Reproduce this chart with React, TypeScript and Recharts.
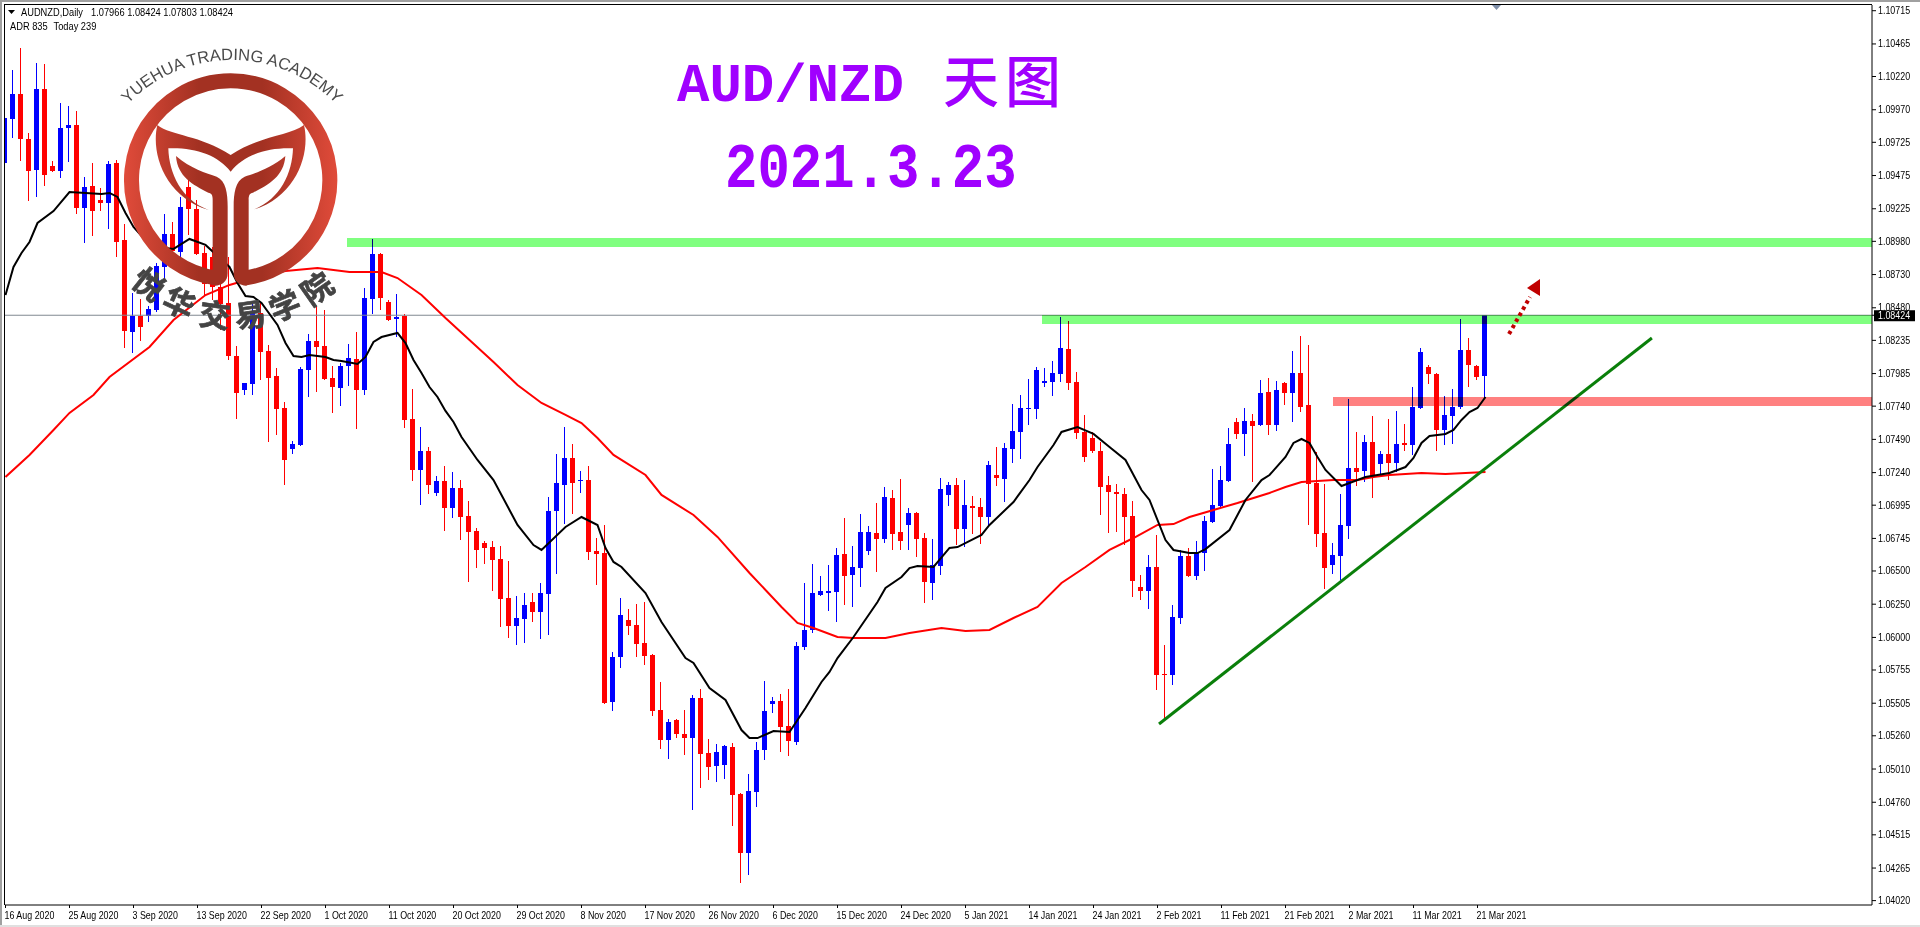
import React from 'react';
import { Bar, ComposedChart, Line, ReferenceArea, ReferenceLine, XAxis, YAxis } from 'recharts';

// all prices in points (1e-5)
const opens = [
  109567,109903,110089,109750,109517,110126,109547,109509,109828,109853,
  109234,109397,109291,109271,109570,108990,108298,108418,108421,108464,
  108790,109035,108902,109392,109221,108895,108865,108639,108514,108117,
  107862,107907,108443,108155,107967,107726,107418,107448,108012,108230,
  108193,107952,107877,108037,108092,107862,108549,108885,108526,108396,
  108418,107643,107260,107403,107087,107177,106974,107124,106914,106801,
  106710,106680,106590,106297,106086,106139,106267,106191,106327,106951,
  107147,107350,107177,107184,106650,106635,105514,105853,106131,106093,
  105958,105868,105454,105228,105379,105273,105243,105544,105130,105033,
  105040,105176,104822,104378,104837,105153,105499,105522,105334,105213,
  105928,106056,106319,106334,106342,106628,106470,106522,106650,106786,
  106741,107049,106793,106846,106936,106748,106410,106537,107072,107147,
  106816,106989,106981,106906,107222,107192,107418,107546,107719,107719,
  107914,107922,107982,108170,107922,107546,107501,107403,107147,107094,
  107079,106914,106379,106349,106530,105725,105717,106146,106613,106462,
  106635,106869,106989,107177,107621,107531,107628,107598,107847,107598,
  107914,107839,107990,107749,107162,106786,106545,106613,106838,107275,
  107252,107470,107305,107380,107312,107463,107448,107726,108035,107982,
  107561,107666,107734,108163,108042,107966,
];
const highs = [
  109938,110269,110432,109793,110319,110312,109582,110019,109998,109958,
  109464,109567,109379,109585,109590,109111,108589,108544,108494,108815,
  109186,109126,109316,109492,109291,108945,108940,108739,108860,108193,
  107914,108514,108526,108200,108025,107771,107478,108032,108283,108494,
  108464,108042,108062,108208,108298,108627,108998,108890,108539,108584,
  108433,107869,107583,107433,107215,107290,107245,107184,107026,106823,
  106726,106726,106688,106575,106312,106334,106334,106410,107057,107380,
  107583,107455,107252,107290,106748,106846,105890,106297,106214,106251,
  106267,105875,105665,105386,105386,105454,105567,105612,105236,105198,
  105191,105206,104829,104972,105213,105672,105552,105574,105612,105966,
  106410,106552,106462,106545,106673,106899,106688,106929,106838,107011,
  107132,107109,107192,106974,106945,106786,106741,107200,107169,107200,
  107184,107064,107049,107327,107433,107463,107756,107824,107944,108035,
  108027,108080,108411,108381,107997,107674,107546,107470,107215,107154,
  107124,107026,106470,106620,106771,105943,106244,106658,106673,106726,
  106914,107267,107290,107576,107651,107726,107681,107937,107952,107929,
  107922,108155,108268,108200,107395,107154,106710,107079,107794,107546,
  107523,107666,107403,107643,107704,107606,107884,108178,108050,107990,
  107816,107869,108396,108253,108050,108424,
];
const lows = [
  109555,109760,109580,109279,109309,109392,109497,109452,109577,109181,
  108970,109015,109203,109076,108857,108180,108135,108225,108376,108443,
  108699,108890,108852,109025,108877,108576,108539,108313,108087,107646,
  107824,107824,107937,107473,107518,107147,107380,107435,107811,107849,
  107937,107691,107736,107892,107571,107824,108433,108464,108381,108258,
  107576,107177,106996,107079,107064,106801,106899,106733,106417,106522,
  106552,106349,106078,105996,105943,105958,106116,105988,106018,106477,
  106853,106929,107087,106583,106394,105499,105446,105770,106018,105853,
  105793,105409,105161,105085,105243,105115,104702,104867,104927,104912,
  104935,104581,104152,104212,104724,105078,105431,105138,105108,105191,
  105905,106033,106312,106199,106116,106244,106229,106379,106620,106492,
  106710,106658,106658,106658,106605,106259,106282,106470,106989,106695,
  106680,106778,106703,106846,107139,107019,107312,107343,107598,107643,
  107884,107816,107922,107862,107493,107320,107388,106921,106786,106793,
  106695,106304,106282,106214,105604,105394,105642,106101,106455,106432,
  106500,106860,106985,107169,107493,107365,107169,107591,107523,107553,
  107749,107621,107696,106846,106680,106364,106477,106432,106741,107139,
  107169,107049,107222,107184,107245,107403,107373,107719,107907,107403,
  107448,107455,107719,107884,107937,107803,
];
const closes = [
  109906,110089,109753,109509,110126,109482,109509,109833,109853,109226,
  109389,109211,109271,109562,108978,108308,108418,108338,108471,108795,
  109035,108910,109239,109223,108885,108664,108639,108514,108112,107842,
  107914,108438,108150,107954,107721,107335,107455,108020,108230,108183,
  107944,107887,108042,108100,107862,108554,108885,108556,108393,108408,
  107636,107260,107403,107147,107177,106974,107124,106906,106793,106658,
  106673,106583,106289,106086,106146,106244,106191,106334,106951,107162,
  107350,107162,107184,106643,106628,105507,105853,106169,106086,105951,
  105860,105446,105228,105364,105273,105243,105544,105123,105025,105138,
  105183,104814,104378,104845,105153,105446,105522,105326,105221,105936,
  106056,106334,106349,106349,106620,106462,106530,106793,106793,106741,
  107057,106778,106726,106936,106741,106417,106545,107117,107147,106816,
  106996,106974,106906,107297,107200,107425,107553,107726,107726,108012,
  107929,107990,108178,107914,107538,107358,107403,107132,107094,107079,
  106906,106425,106349,106530,105717,105717,106154,106613,106462,106635,
  106876,106996,107184,107455,107531,107628,107591,107839,107598,107862,
  107839,107990,107734,107154,106778,106522,106620,106846,107275,107245,
  107470,107207,107380,107312,107455,107448,107734,108148,107982,107561,
  107674,107734,108163,108050,107959,108424,
];

// moving averages, read at the bars listed next to them
const fastMaBars = [0,1,2,3,4,6,8,10,12,13,14,15,16,18,20,21,23,25,28,29,30,31,32,34,35,36,37,38,40,41,42,44,45,46,47,49,50,51,52,53,54,55,56,57,59,61,63,64,66,67,70,72,74,75,76,77,80,82,85,86,88,90,92,93,94,96,98,100,102,103,104,106,109,110,112,113,114,116,118,119,122,123,126,128,129,131,132,134,136,138,140,142,143,145,146,148,149,150,153,155,157,158,160,161,162,163,164,165,167,168,170,173,175,176,177,178,180,181,182,183,184,185];
const fastMa = [108576,108787,108892,108975,109118,109208,109351,109344,109336,109344,109314,109193,109088,108953,108930,108923,108998,108953,108787,108667,108569,108561,108516,108351,108215,108117,108110,108125,108110,108087,108080,108057,108110,108223,108260,108291,108215,108087,107990,107884,107809,107704,107621,107508,107335,107184,106959,106846,106695,106658,106831,106906,106846,106673,106568,106530,106334,106116,105845,105808,105620,105529,105303,105243,105243,105296,105288,105469,105665,105740,105845,106003,106267,106372,106455,106522,106537,106530,106673,106680,106771,106846,107019,107184,107282,107448,107546,107583,107531,107433,107335,107109,107034,106733,106658,106635,106635,106665,106808,107034,107184,107222,107358,107463,107493,107463,107358,107260,107139,107162,107207,107237,107282,107350,107463,107516,107531,107561,107636,107696,107726,107809];
const slowMaBars = [0,3,6,8,11,13,18,21,25,28,31,35,39,43,47,49,52,55,58,61,64,67,70,72,74,76,80,82,86,89,93,97,99,101,104,106,110,113,117,120,123,126,129,132,135,138,141,144,146,148,151,154,158,160,162,166,169,171,173,177,180,185];
const slowMa = [107207,107373,107561,107689,107824,107959,108185,108388,108576,108652,108704,108757,108780,108749,108749,108704,108576,108403,108238,108072,107899,107764,107674,107613,107500,107373,107222,107072,106921,106756,106485,106229,106109,106071,106003,105996,105996,106033,106071,106048,106056,106146,106229,106410,106530,106658,106748,106846,106853,106906,106959,107011,107087,107132,107169,107184,107184,107207,107222,107237,107230,107245];

const dateLabels = ['16 Aug 2020','25 Aug 2020','3 Sep 2020','13 Sep 2020','22 Sep 2020','1 Oct 2020','11 Oct 2020','20 Oct 2020','29 Oct 2020','8 Nov 2020','17 Nov 2020','26 Nov 2020','6 Dec 2020','15 Dec 2020','24 Dec 2020','5 Jan 2021','14 Jan 2021','24 Jan 2021','2 Feb 2021','11 Feb 2021','21 Feb 2021','2 Mar 2021','11 Mar 2021','21 Mar 2021'];
const barsPerLabel = 8;
const priceTicks = [1.10715,1.10465,1.1022,1.0997,1.09725,1.09475,1.09225,1.0898,1.0873,1.0848,1.08235,1.07985,1.0774,1.0749,1.0724,1.06995,1.06745,1.065,1.0625,1.06,1.05755,1.05505,1.0526,1.0501,1.0476,1.04515,1.04265,1.0402];
const bid = 1.08424;

const rows = opens.map((open, i) => ({
  i,
  open: open / 1e5,
  close: closes[i] / 1e5,
  range: [lows[i] / 1e5, highs[i] / 1e5],
  fast: fastMaBars.includes(i) ? fastMa[fastMaBars.indexOf(i)] / 1e5 : null,
  slow: slowMaBars.includes(i) ? slowMa[slowMaBars.indexOf(i)] / 1e5 : null,
}));

const xMin = -0.0625;
const xMax = 233.3125;
const UP = '#0000FF';
const DOWN = '#FF0000';
const smallFont = '"Liberation Sans", Arial, sans-serif';

const Candle = (props: any) => {
  const { x, y, width, height, payload } = props;
  const [low, high] = payload.range;
  const k = height / (high - low);
  const top = Math.max(payload.open, payload.close);
  const bottom = Math.min(payload.open, payload.close);
  const bodyY = Math.round(y + (high - top) * k);
  const bodyH = Math.max(1, Math.round((top - bottom) * k));
  const color = payload.close >= payload.open ? UP : DOWN;
  const left = Math.floor(x);
  return (
    <g shapeRendering="crispEdges">
      <rect x={left + 2} y={Math.round(y)} width={1} height={Math.max(1, Math.round(height))} fill={color} />
      <rect x={left} y={bodyY} width={5} height={bodyH} fill={color} />
    </g>
  );
};

const Band = (props: any) => (
  <rect
    x={props.x}
    y={props.y}
    width={props.width}
    height={props.height}
    fill={props.fill}
    shapeRendering="crispEdges"
    style={{ mixBlendMode: 'multiply' }}
  />
);

const DateTick = (props: any) => {
  const { x, y, payload } = props;
  return (
    <text transform={`translate(${x - 1} ${y + 9}) scale(0.89 1)`} fontSize={10} fontFamily={smallFont} fill="#000">
      {dateLabels[payload.value / barsPerLabel]}
    </text>
  );
};

const PriceTick = (props: any) => {
  const { x, y, payload } = props;
  const isBid = payload.value === bid;
  return (
    <g>
      {isBid && <rect x={1874} y={y - 5} width={41} height={11} fill="#000" />}
      <text
        transform={`translate(1878 ${y + 3.5}) scale(0.89 1)`}
        fontSize={10}
        fontFamily={smallFont}
        fill={isBid ? '#fff' : '#000'}
      >
        {payload.value.toFixed(5)}
      </text>
    </g>
  );
};

const Logo = () => (
  <g>
    <defs>
      <linearGradient id="logoFill" gradientUnits="userSpaceOnUse" x1="72" x2="712" y1="0" y2="0">
        <stop offset="0" stopColor="#E04B3A" />
        <stop offset="0.35" stopColor="#A33122" />
        <stop offset="0.65" stopColor="#A33122" />
        <stop offset="1" stopColor="#E04B3A" />
      </linearGradient>
    </defs>
    <g transform="translate(100 60) scale(0.33333)">
      <path d="M350 654.5 A297.5 297.5 0 1 1 434 654.5" fill="none" stroke="url(#logoFill)" strokeWidth={45} />
      <path
        d="M172 195 C215 228 300 225 392 285 C484 225 569 228 612 195 C632 280 590 410 458 450 C540 420 577 340 579 265 C500 262 430 285 392 335 C354 285 284 262 205 265 C207 340 244 420 326 450 C194 410 152 280 172 195 Z"
        fill="url(#logoFill)"
      />
      <path
        d="M228 288 C270 325 320 340 350 350 C378 362 383 400 383 440 L383 640 C383 665 365 677 345 677 L330 655 L338 630 L338 420 C338 405 335 400 325 398 C280 375 232 350 228 288 Z"
        fill="url(#logoFill)"
      />
      <path
        d="M556 288 C514 325 464 340 434 350 C406 362 401 400 401 440 L401 640 C401 665 419 677 439 677 L454 655 L446 630 L446 420 C446 405 449 400 459 398 C504 375 552 350 556 288 Z"
        fill="url(#logoFill)"
      />
    </g>
    <path id="logoArc" d="M107 131.5 A145 145 0 0 1 357 131.5" fill="none" />
    <text fontSize={16.5} fontFamily={smallFont} fill="#4A4A4A" textAnchor="middle">
      <textPath href="#logoArc" startOffset="50%">YUEHUA TRADING ACADEMY</textPath>
    </text>
    {[
      ['悦', 150, 283, 38],
      ['华', 180, 301, 25],
      ['交', 215, 313, 8],
      ['易', 250, 313, -8],
      ['学', 284, 304, -22],
      ['院', 316, 287, -35],
    ].map(([ch, cx, cy, rot]) => (
      <text
        key={ch as string}
        transform={`translate(${cx} ${cy}) rotate(${rot})`}
        textAnchor="middle"
        dominantBaseline="central"
        fontSize={31}
        fontWeight={700}
        fontFamily='"Noto Sans CJK SC"'
        fill="#444"
        stroke="#444"
        strokeWidth={0.7}
      >
        {ch}
      </text>
    ))}
  </g>
);

const Overlay = () => (
  <svg width={1920} height={927} style={{ position: 'absolute', left: 0, top: 0, pointerEvents: 'none' }}>
    <Logo />
    <g fill="#A000FF" fontFamily='"Liberation Mono", monospace' fontWeight={700} fontSize={54}>
      <text x={677} y={101}>AUD/NZD</text>
      <text transform="translate(725 187) scale(1 1.15)">2021.3.23</text>
    </g>
    <text x={943} y={102} fill="#A000FF" fontFamily='"Noto Sans CJK SC"' fontSize={56} fontWeight={500} letterSpacing={6}>天图</text>
    <polygon points="8,10 15,10 11.5,14" fill="#000" />
    <g fontFamily={smallFont} fontSize={10} fill="#000">
      <text transform="translate(21 16) scale(0.93 1)">AUDNZD,Daily</text>
      <text transform="translate(91 16) scale(0.93 1)">1.07966 1.08424 1.07803 1.08424</text>
      <text transform="translate(10 29.5) scale(0.93 1)">ADR 835</text>
      <text transform="translate(53.5 29.5) scale(0.93 1)">Today 239</text>
    </g>
    <polygon points="1492,5 1501,5 1496.5,10" fill="#7F8FA9" />
    <line x1={1509} y1={334} x2={1530} y2={297} stroke="#C00000" strokeWidth={4} strokeDasharray="3.5 3.5" />
    <polygon points="1527,288 1540,279 1540,296" fill="#C00000" />
  </svg>
);

export default function App() {
  return (
    <div style={{ position: 'absolute', left: 0, top: 0, width: 1920, height: 927, background: '#fff', overflow: 'hidden' }}>
      <div style={{ position: 'absolute', left: 0, top: 0, width: 1920, height: 2, background: '#A0A0A0' }} />
      <div style={{ position: 'absolute', left: 0, top: 0, width: 2, height: 927, background: '#A0A0A0' }} />
      <div style={{ position: 'absolute', left: 0, top: 925, width: 1920, height: 2, background: '#E0E0E0' }} />
      <div style={{ position: 'absolute', left: 4, top: 4, width: 1868, height: 1, background: '#000' }} />
      <div style={{ position: 'absolute', left: 4, top: 4, width: 1, height: 901, background: '#000' }} />
      <div style={{ position: 'absolute', left: 0, top: 0 }}>
        <ComposedChart
          width={1920}
          height={927}
          data={rows}
          margin={{ top: 5, right: 0, bottom: 0, left: 5 }}
        >
          <XAxis
            dataKey="i"
            type="number"
            domain={[xMin, xMax]}
            allowDataOverflow
            ticks={dateLabels.map((_, n) => n * barsPerLabel)}
            interval={0}
            height={22}
            tickSize={3}
            tick={<DateTick />}
            axisLine={{ stroke: '#000' }}
            tickLine={{ stroke: '#000' }}
          />
          <YAxis
            orientation="right"
            type="number"
            domain={[1.03987, 1.10758]}
            allowDataOverflow
            ticks={[...priceTicks, bid]}
            interval={0}
            width={48}
            tickSize={4}
            tick={<PriceTick />}
            axisLine={{ stroke: '#000' }}
            tickLine={{ stroke: '#000' }}
          />
          <ReferenceLine y={bid} stroke="#808890" />
          <Bar dataKey="range" barSize={5} shape={<Candle />} isAnimationActive={false} />
          <Line dataKey="slow" stroke="#FF0000" strokeWidth={2} dot={false} connectNulls type="linear" isAnimationActive={false} />
          <Line dataKey="fast" stroke="#000" strokeWidth={2} dot={false} connectNulls type="linear" isAnimationActive={false} />
          <ReferenceArea zIndex={1000} x1={42.7} x2={xMax} y1={1.08938} y2={1.09005} fill="#80FF80" shape={<Band />} />
          <ReferenceArea zIndex={1000} x1={129.6} x2={xMax} y1={1.08358} y2={1.08424} fill="#80FF80" shape={<Band />} />
          <ReferenceArea zIndex={1000} x1={165.9} x2={xMax} y1={1.07741} y2={1.07809} fill="#FF8080" shape={<Band />} />
          <ReferenceLine
            segment={[{ x: 144.19, y: 1.05349 }, { x: 205.8, y: 1.08253 }]}
            stroke="#0A7F0A"
            strokeWidth={3}
          />
        </ComposedChart>
      </div>
      <Overlay />
    </div>
  );
}
